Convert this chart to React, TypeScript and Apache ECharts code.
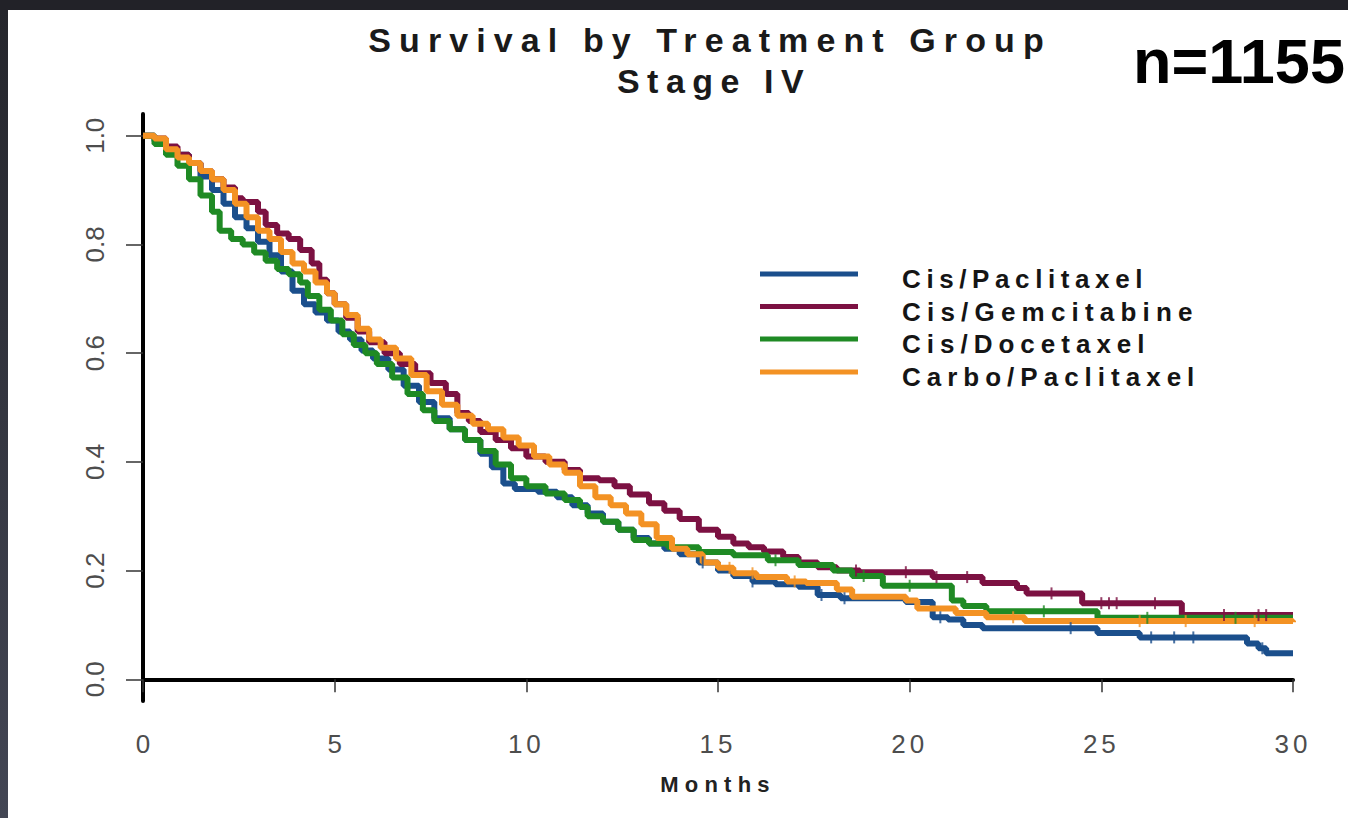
import React, { useEffect, useRef } from "react";
import * as echarts from "echarts";

// ---------- data ----------
const seriesNames = ["Cis/Paclitaxel", "Cis/Gemcitabine", "Cis/Docetaxel", "Carbo/Paclitaxel"];
const seriesColors = ["#1b4f8c", "#7c1142", "#1f8a24", "#f39224"];

// Kaplan-Meier steps: [month, survival]
const cisPaclitaxel: [number, number][] = [
  [0, 1.0], [0.3, 0.99], [0.6, 0.975], [0.9, 0.965], [1.2, 0.95], [1.5, 0.925], [1.8, 0.9],
  [2.1, 0.875], [2.4, 0.85], [2.7, 0.83], [3.0, 0.805], [3.3, 0.78], [3.6, 0.75], [3.9, 0.715],
  [4.2, 0.69], [4.5, 0.675], [4.8, 0.66], [5.1, 0.64], [5.4, 0.625], [5.7, 0.605], [6.0, 0.59],
  [6.4, 0.57], [6.8, 0.54], [7.2, 0.51], [7.6, 0.48], [8.0, 0.46], [8.4, 0.44], [8.8, 0.415],
  [9.1, 0.39], [9.4, 0.36], [9.7, 0.35], [10.3, 0.345], [10.8, 0.335], [11.2, 0.32], [11.6, 0.305],
  [12.0, 0.29], [12.4, 0.275], [12.8, 0.26], [13.2, 0.25], [13.6, 0.24], [14.0, 0.23], [14.5, 0.215],
  [15.0, 0.2], [15.4, 0.19], [15.9, 0.18], [16.5, 0.175], [17.1, 0.17], [17.6, 0.155], [18.2, 0.149],
  [19.9, 0.142], [20.6, 0.114], [21.0, 0.11], [21.4, 0.1], [21.9, 0.094], [24.9, 0.085], [26.0, 0.077],
  [28.8, 0.066], [29.1, 0.057], [29.3, 0.048], [30, 0.048],
];
const cisGemcitabine: [number, number][] = [
  [0, 1.0], [0.3, 0.995], [0.6, 0.98], [0.9, 0.965], [1.2, 0.95], [1.5, 0.935], [1.8, 0.92],
  [2.1, 0.905], [2.4, 0.885], [2.6, 0.878], [3.0, 0.86], [3.2, 0.836], [3.5, 0.82], [3.8, 0.81],
  [4.1, 0.79], [4.4, 0.765], [4.6, 0.735], [4.8, 0.71], [5.0, 0.69], [5.3, 0.665], [5.6, 0.64],
  [5.9, 0.62], [6.3, 0.6], [6.7, 0.58], [7.1, 0.563], [7.5, 0.545], [7.9, 0.525], [8.2, 0.49],
  [8.5, 0.475], [8.8, 0.455], [9.2, 0.44], [9.6, 0.425], [10.0, 0.41], [10.5, 0.4], [11.0, 0.385],
  [11.4, 0.37], [11.9, 0.366], [12.3, 0.355], [12.7, 0.34], [13.2, 0.324], [13.6, 0.31], [14.0, 0.295],
  [14.5, 0.275], [15.0, 0.262], [15.4, 0.25], [15.8, 0.243], [16.2, 0.235], [16.7, 0.225],
  [17.1, 0.215], [17.6, 0.206], [18.1, 0.2], [18.7, 0.197], [20.6, 0.188], [21.9, 0.177],
  [22.8, 0.168], [23.05, 0.158], [24.5, 0.14], [27.1, 0.118], [30, 0.118],
];
const cisDocetaxel: [number, number][] = [
  [0, 1.0], [0.3, 0.985], [0.6, 0.965], [0.9, 0.945], [1.2, 0.92], [1.5, 0.89], [1.8, 0.86],
  [2.0, 0.825], [2.3, 0.81], [2.6, 0.8], [2.9, 0.785], [3.2, 0.77], [3.5, 0.755], [3.8, 0.745],
  [4.1, 0.73], [4.3, 0.705], [4.6, 0.68], [4.9, 0.66], [5.2, 0.635], [5.5, 0.615], [5.8, 0.6],
  [6.1, 0.58], [6.5, 0.555], [6.9, 0.525], [7.3, 0.495], [7.6, 0.475], [8.0, 0.46], [8.4, 0.44],
  [8.8, 0.42], [9.2, 0.395], [9.6, 0.37], [10.0, 0.355], [10.5, 0.342], [11.0, 0.33], [11.4, 0.317],
  [11.6, 0.3], [12.0, 0.29], [12.4, 0.275], [12.8, 0.256], [13.2, 0.25], [13.7, 0.243], [14.5, 0.234],
  [15.4, 0.228], [16.3, 0.219], [17.1, 0.21], [18.0, 0.2], [18.5, 0.19], [19.3, 0.172],
  [21.1, 0.145], [21.4, 0.135], [22.0, 0.125], [24.9, 0.113], [30, 0.113],
];
const carboPaclitaxel: [number, number][] = [
  [0, 1.0], [0.3, 0.995], [0.6, 0.975], [0.9, 0.96], [1.2, 0.95], [1.5, 0.935], [1.8, 0.92],
  [2.1, 0.9], [2.4, 0.875], [2.7, 0.85], [3.0, 0.825], [3.3, 0.81], [3.6, 0.786], [3.9, 0.765],
  [4.2, 0.75], [4.5, 0.73], [4.8, 0.71], [5.0, 0.69], [5.3, 0.67], [5.6, 0.645], [5.9, 0.625],
  [6.2, 0.61], [6.6, 0.59], [7.0, 0.56], [7.4, 0.53], [7.8, 0.505], [8.2, 0.485], [8.6, 0.47],
  [9.0, 0.46], [9.4, 0.445], [9.8, 0.43], [10.2, 0.41], [10.6, 0.395], [11.0, 0.38], [11.4, 0.355],
  [11.8, 0.335], [12.2, 0.32], [12.6, 0.305], [13.0, 0.285], [13.4, 0.26], [13.8, 0.24], [14.2, 0.23],
  [14.6, 0.215], [15.0, 0.205], [15.4, 0.195], [16.0, 0.188], [16.8, 0.18], [17.3, 0.177],
  [18.1, 0.165], [18.5, 0.152], [19.9, 0.145], [20.2, 0.13], [21.2, 0.122], [22.0, 0.114],
  [23.0, 0.107], [30, 0.105],
];
const survivalData = [cisPaclitaxel, cisGemcitabine, cisDocetaxel, carboPaclitaxel];

// censoring marks (months)
const censorCisPaclitaxel = [14.6, 15.9, 17.7, 18.3, 20.8, 24.2, 26.3, 26.9, 27.4, 29.2];
const censorCisGemcitabine = [18.6, 19.9, 20.7, 21.5, 23.7, 25.0, 25.2, 25.4, 26.4, 28.2, 29.1, 29.3];
const censorCisDocetaxel = [16.5, 18.8, 20.0, 23.5, 26.2, 28.5];
const censorCarboPaclitaxel = [15.3, 15.9, 17.0, 22.7, 26.0, 27.2, 29.0];
const censorData = [censorCisPaclitaxel, censorCisGemcitabine, censorCisDocetaxel, censorCarboPaclitaxel];

const xTicks = [0, 5, 10, 15, 20, 25, 30];
const yTicks = [0, 0.2, 0.4, 0.6, 0.8, 1.0];

const titleLines = ["Survival by Treatment Group", "Stage IV"];
const sampleLabel = "n=1155";
const xAxisTitle = "Months";

// ---------- helpers ----------
const survivalAt = (steps: [number, number][], t: number) => {
  let v = steps[0][1];
  for (const [x, y] of steps) {
    if (x <= t) v = y;
    else break;
  }
  return v;
};

const FONT = '"Liberation Sans", Arial, sans-serif';

const letterSpacing: Record<string, number> = {
  "Survival by Treatment Group": 8.1,
  "Stage IV": 7.5,
  "Cis/Paclitaxel": 5.6,
  "Cis/Gemcitabine": 6.2,
  "Cis/Docetaxel": 6.0,
  "Carbo/Paclitaxel": 6.0,
  Months: 6.2,
  "10": 4,
  "15": 4,
  "20": 4,
  "25": 4,
  "30": 4,
};

export default function App() {
  const ref = useRef<HTMLDivElement>(null);

  useEffect(() => {
    if (!ref.current) return;
    const chart = echarts.init(ref.current, null, { renderer: "svg" });

    const lineSeries = survivalData.map((d, i) => ({
      type: "line",
      name: seriesNames[i],
      data: d,
      step: "end",
      showSymbol: false,
      symbol: "none",
      lineStyle: { color: seriesColors[i], width: 6 },
      itemStyle: { color: seriesColors[i] },
      z: 2 + i,
    }));
    const censorSeries = censorData.map((c, i) => ({
      type: "scatter",
      name: seriesNames[i] + " censored",
      data: c.map((t) => [t, survivalAt(survivalData[i], t)]),
      symbol: "rect",
      symbolSize: [2, 12],
      itemStyle: { color: seriesColors[i] },
      z: 10,
    }));

    const legendRows = [274, 306.5, 339, 372];
    const legendGraphics: any[] = [];
    seriesNames.forEach((n, i) => {
      legendGraphics.push({
        type: "line",
        shape: { x1: 760, y1: legendRows[i], x2: 858, y2: legendRows[i] },
        style: { stroke: seriesColors[i], lineWidth: 5 },
      });
      legendGraphics.push({
        type: "text",
        x: 902,
        y: legendRows[i] + 5,
        style: {
          text: n,
          font: `bold 26px ${FONT}`,
          fill: "#151515",
          textAlign: "left",
          align: "left",
          textVerticalAlign: "middle",
          verticalAlign: "middle",
        },
      });
    });

    const titleStyle = (text: string) => ({
      text,
      font: `bold 34px ${FONT}`,
      fill: "#1a1a1a",
      textAlign: "center",
      align: "center",
      textVerticalAlign: "middle",
      verticalAlign: "middle",
    });

    const option: any = {
      animation: false,
      backgroundColor: "#ffffff",
      grid: { left: 143, right: 55, top: 114, bottom: 117, containLabel: false },
      xAxis: {
        type: "value",
        min: 0,
        max: 30,
        interval: 5,
        axisLine: { show: true, lineStyle: { color: "#000", width: 4 } },
        axisTick: { show: true, length: 13, lineStyle: { color: "#333", width: 1.5 } },
        axisLabel: {
          customValues: xTicks,
          margin: 30,
          fontSize: 26,
          fontFamily: FONT,
          color: "#4d4d4d",
        },
        splitLine: { show: false },
        name: xAxisTitle,
        nameLocation: "middle",
        nameGap: 72,
        nameTextStyle: { fontSize: 22, fontWeight: "bold", fontFamily: FONT, color: "#222" },
      },
      yAxis: {
        type: "value",
        min: -0.04,
        max: 1.04,
        axisLine: { show: true, lineStyle: { color: "#000", width: 4 } },
        axisTick: { show: true, length: 17, customValues: yTicks, lineStyle: { color: "#333", width: 1.5 } },
        axisLabel: {
          customValues: yTicks,
          rotate: 90,
          margin: 35,
          fontSize: 26,
          fontFamily: FONT,
          color: "#4d4d4d",
          formatter: (v: number) => v.toFixed(1),
        },
        splitLine: { show: false },
      },
      graphic: [
        { type: "rect", shape: { x: 0, y: 0, width: 1348, height: 10 }, style: { fill: "#222228" } },
        {
          type: "rect",
          shape: { x: 0, y: 10, width: 8, height: 808 },
          style: {
            fill: new echarts.graphic.LinearGradient(0, 0, 0, 1, [
              { offset: 0, color: "#25262c" },
              { offset: 1, color: "#434654" },
            ]),
          },
        },
        { type: "text", x: 710, y: 40, style: titleStyle(titleLines[0]) },
        { type: "text", x: 714, y: 81, style: titleStyle(titleLines[1]) },
        {
          type: "text",
          x: 1133,
          y: 61,
          style: {
            text: sampleLabel,
            font: `bold 63px ${FONT}`,
            fill: "#000",
            textAlign: "left",
            align: "left",
            textVerticalAlign: "middle",
            verticalAlign: "middle",
          },
        },
        ...legendGraphics,
      ],
      series: [...lineSeries, ...censorSeries],
    };

    chart.setOption(option);

    const applySpacing = () => {
      const root = ref.current;
      if (!root) return;
      root.querySelectorAll("text").forEach((t) => {
        const s = letterSpacing[(t.textContent || "").trim()];
        if (s) t.setAttribute("letter-spacing", String(s));
      });
    };
    applySpacing();
    chart.on("finished", applySpacing);
    const timer = setTimeout(applySpacing, 50);

    return () => {
      clearTimeout(timer);
      chart.dispose();
    };
  }, []);

  return (
    <div
      ref={ref}
      style={{ position: "fixed", left: 0, top: 0, width: 1348, height: 818, background: "#fff" }}
    />
  );
}
